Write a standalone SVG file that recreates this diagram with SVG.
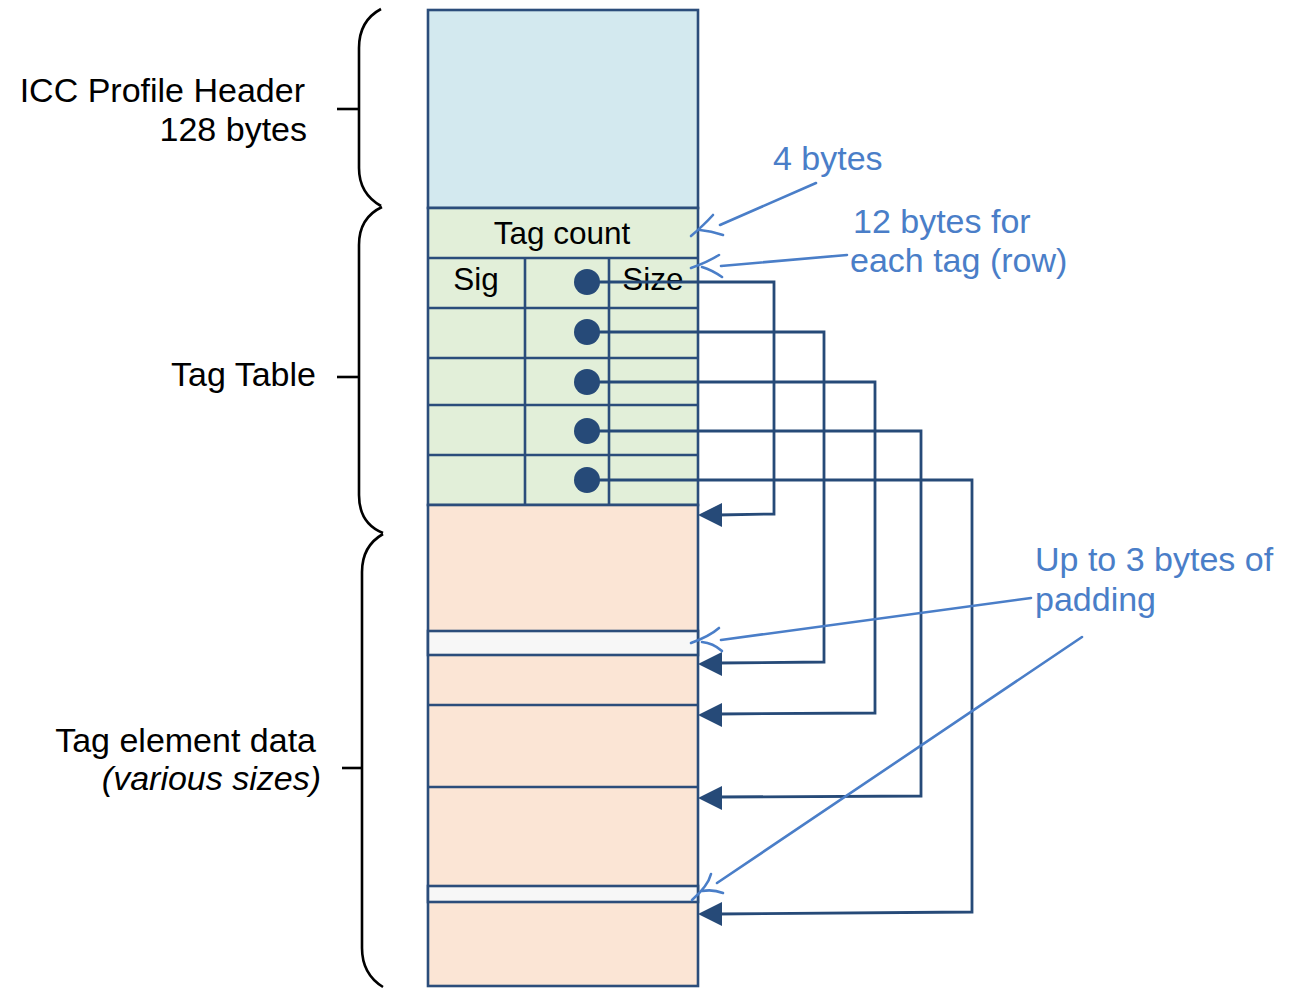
<svg xmlns="http://www.w3.org/2000/svg" width="1289" height="1002" viewBox="0 0 1289 1002">
<style>
.box{stroke:#2b4d7b;stroke-width:2.6}
.grid{stroke:#2b4d7b;stroke-width:2.6;fill:none}
.lbl{font-family:"Liberation Sans",Arial,sans-serif;font-size:34px;fill:#000}
.cell{font-family:"Liberation Sans",Arial,sans-serif;font-size:31.5px;fill:#000}
.note{font-family:"Liberation Sans",Arial,sans-serif;font-size:34px;fill:#4a7ec8}
.brace{fill:none;stroke:#000;stroke-width:2.6}
.con{fill:none;stroke:#264a78;stroke-width:2.8}
.ah{fill:#264a78}
.dot{fill:#264a78}
.ann{fill:none;stroke:#4a7ec8;stroke-width:2.6;stroke-linecap:round}
</style>
<rect width="1289" height="1002" fill="#fff"/>
<g id="braces">
<path class="brace" d="M381,9 C366,17 359,30 359,48 L359,168 C359,186 367,198 381,206"/>
<line class="brace" x1="337" y1="109" x2="359" y2="109"/>
<path class="brace" d="M382,207 C367,214 359,226 359,245 L359,495 C359,515 368,527 383,533"/>
<line class="brace" x1="337" y1="377" x2="359" y2="377"/>
<path class="brace" d="M383,534 C369,542 362,555 362,572 L362,948 C362,966 370,979 383,987"/>
<line class="brace" x1="342" y1="768" x2="362" y2="768"/>
</g>
<g id="labels">
<text class="lbl" x="305" y="102" text-anchor="end">ICC Profile Header</text>
<text class="lbl" x="307" y="141" text-anchor="end">128 bytes</text>
<text class="lbl" x="316" y="386" text-anchor="end">Tag Table</text>
<text class="lbl" x="316" y="752" text-anchor="end">Tag element data</text>
<text class="lbl" x="321" y="790" text-anchor="end" font-style="italic">(various sizes)</text>
</g>
<g id="header">
<rect class="box" x="428" y="10" width="270" height="198" fill="#d3e9ef"/>
</g>
<g id="tag-table">
<rect class="box" x="428" y="208" width="270" height="297" fill="#e2efd9"/>
<line class="grid" x1="428" y1="258" x2="698" y2="258"/>
<line class="grid" x1="428" y1="308" x2="698" y2="308"/>
<line class="grid" x1="428" y1="358" x2="698" y2="358"/>
<line class="grid" x1="428" y1="405" x2="698" y2="405"/>
<line class="grid" x1="428" y1="455" x2="698" y2="455"/>
<line class="grid" x1="525" y1="258" x2="525" y2="505"/>
<line class="grid" x1="609" y1="258" x2="609" y2="505"/>
<text class="cell" x="562" y="244" text-anchor="middle">Tag count</text>
<text class="cell" x="476" y="290" text-anchor="middle">Sig</text>
<text class="cell" x="653" y="290" text-anchor="middle">Size</text>
</g>
<g id="tag-data">
<rect class="box" x="428" y="505" width="270" height="481" fill="#fbe5d5"/>
<rect class="box" x="428" y="631" width="270" height="24" fill="#f7f7f7"/>
<line class="grid" x1="428" y1="705" x2="698" y2="705"/>
<line class="grid" x1="428" y1="787" x2="698" y2="787"/>
<rect class="box" x="428" y="886" width="270" height="16" fill="#f7f7f7"/>
</g>
<g id="connectors">
<path class="con" d="M587,282 H774 V514 L718,515"/>
<path class="con" d="M587,332 H824 V662 L718,663"/>
<path class="con" d="M587,382 H875 V713 L718,714"/>
<path class="con" d="M587,431 H921 V796 L718,797"/>
<path class="con" d="M587,480 H972 V912 L718,914"/>
<polygon class="ah" points="698,515 722,503 722,527"/>
<polygon class="ah" points="698,664 722,652 722,676"/>
<polygon class="ah" points="698,715 722,703 722,727"/>
<polygon class="ah" points="698,798 722,786 722,810"/>
<polygon class="ah" points="698,914 722,902 722,926"/>
<circle class="dot" cx="587" cy="282" r="13"/>
<circle class="dot" cx="587" cy="332" r="13"/>
<circle class="dot" cx="587" cy="382" r="13"/>
<circle class="dot" cx="587" cy="431" r="13"/>
<circle class="dot" cx="587" cy="480" r="13"/>
</g>
<g id="annotations">
<text class="note" x="773" y="170">4 bytes</text>
<text class="note" x="853" y="233">12 bytes for</text>
<text class="note" x="850" y="272">each tag (row)</text>
<text class="note" x="1035" y="571">Up to 3 bytes of</text>
<text class="note" x="1035" y="611">padding</text>
<line class="ann" x1="816" y1="183" x2="720" y2="225"/>
<path class="ann" d="M713,215 Q704,225 691,236 M700,230 Q711,231 723,235"/>
<line class="ann" x1="847" y1="255" x2="721" y2="266"/>
<path class="ann" d="M719,255 Q708,262 691,268 M702,267 Q712,270 722,277"/>
<line class="ann" x1="1031" y1="598" x2="721" y2="640"/>
<path class="ann" d="M719,628 Q710,636 691,643 M702,642 Q713,643 722,651"/>
<line class="ann" x1="1082" y1="637" x2="717" y2="883"/>
<path class="ann" d="M711,874 Q708,886 692,900 M702,891 Q713,889 723,893"/>
</g>
</svg>
